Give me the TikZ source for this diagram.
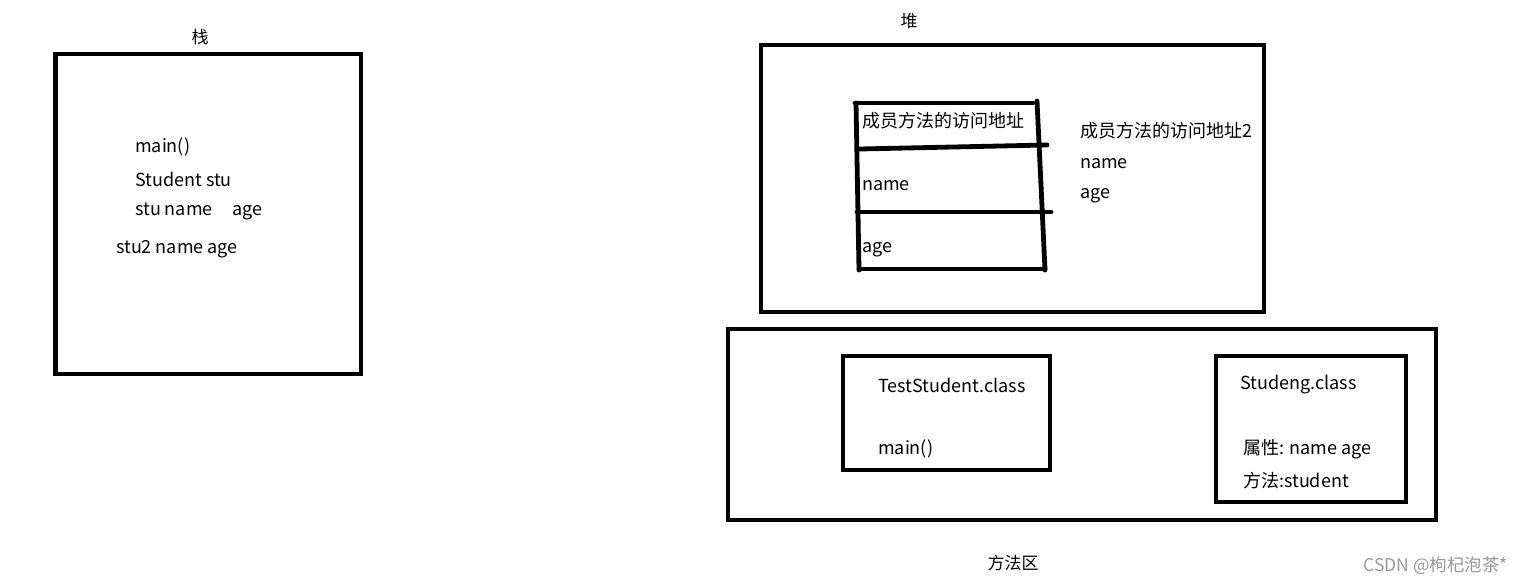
\documentclass[tikz,border=0pt]{standalone}
\usepackage{fontspec}
\setmainfont{Noto Sans CJK SC}
\begin{document}
\begin{tikzpicture}[x=1pt,y=-1pt,
  box/.style={draw=black,line width=4.5pt},
  hand/.style={draw=black,line width=4.8pt,line cap=round},
  txt/.style={anchor=west,inner sep=0pt,font=\fontsize{18}{20}\selectfont},
  title/.style={inner sep=0pt,font=\fontsize{17}{20}\selectfont},
  wmark/.style={inner sep=0pt,anchor=east,text=black!40,font=\fontsize{17.5}{19}\selectfont}]
\useasboundingbox (0,0) rectangle (1522,583);
% stack
\node[title] (stacklbl) at (200,37) {栈};
\draw[box] (55.5,54) rectangle (361,374);
\node[txt] (s1) at (135,147) {main()};
\node[txt] (s2) at (135,179) {Student stu};
\node[txt] (s3) at (135,211) {stu name\hspace{1.1em}age};
\node[txt] (s4) at (116,249) {stu2 name age};
% heap
\node[title] (heaplbl) at (909,21) {堆};
\draw[box] (761,45) rectangle (1264,312);
\draw[hand] (855,103) -- (1033,103);
\draw[hand] (856,103) -- (859,270);
\draw[hand] (1037,101) -- (1045,270);
\draw[hand] (860,149) -- (1047,145);
\draw[hand] (857,212) -- (1051,212);
\draw[hand] (859,269) -- (1045,269);
\node[txt] (h1) at (862,121) {成员方法的访问地址};
\node[txt] (h2) at (862,186) {name};
\node[txt] (h3) at (862,250) {age};
\node[txt] (h4) at (1080,131) {成员方法的访问地址2};
\node[txt] (h5) at (1080,164) {name};
\node[txt] (h6) at (1080,196) {age};
% method area
\draw[box] (728,329) rectangle (1436,520);
\draw[box] (843,356) rectangle (1050,470);
\node[txt] (m1) at (878,385) {TestStudent.class};
\node[txt] (m2) at (878,449) {main()};
\draw[box] (1216,356) rectangle (1406,502);
\node[txt] (m3) at (1240,385) {Studeng.class};
\node[txt] (m4) at (1243,449) {属性: name age};
\node[txt] (m5) at (1243,481) {方法:student};
\node[title] (methodlbl) at (1013,563) {方法区};
\node[wmark] (wm) at (1508,566) {CSDN @枸杞泡茶*};
\end{tikzpicture}
\end{document}
